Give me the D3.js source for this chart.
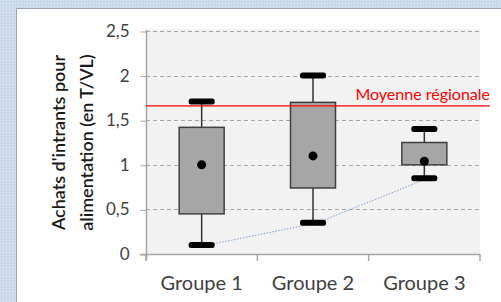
<!DOCTYPE html>
<html><head><meta charset="utf-8">
<script src="https://cdn.jsdelivr.net/npm/d3@7"></script>
<style>html,body{margin:0;padding:0;background:#fff;overflow:hidden}</style>
</head><body>
<script>
const categories = ["Groupe 1", "Groupe 2", "Groupe 3"];
const whiskerLow = [0.1, 0.35, 0.85];
const q1 = [0.45, 0.74, 1.0];
const q3 = [1.42, 1.70, 1.25];
const whiskerHigh = [1.71, 2.0, 1.4];
const means = [1.0, 1.1, 1.04];
const regionalMean = 1.66;
const yTicks = [0, 0.5, 1, 1.5, 2, 2.5];
const yTitle = ["Achats d'intrants pour", "alimentation (en T/VL)"];
const refLabel = "Moyenne régionale";

const FONT = "Lato, 'Open Sans', sans-serif";
const W = 501, H = 302;
const svg = d3.select("body").append("svg").attr("width", W).attr("height", H);
const defs = svg.append("defs");
const pat = defs.append("pattern").attr("id","dots").attr("width",3).attr("height",3).attr("patternUnits","userSpaceOnUse");
pat.append("rect").attr("width",3).attr("height",3).attr("fill","#c9d8ee");
pat.append("rect").attr("width",1).attr("height",1).attr("fill","#e3ecf7");
svg.append("rect").attr("width",W).attr("height",H).attr("fill","url(#dots)");
svg.append("rect").attr("x",17).attr("y",9).attr("width",W-17).attr("height",H-9).attr("fill","#fff");
svg.append("line").attr("x1",16.5).attr("x2",16.5).attr("y1",8.5).attr("y2",H).attr("stroke","#9aa3ad");
svg.append("line").attr("x1",16.5).attr("x2",W).attr("y1",8.5).attr("y2",8.5).attr("stroke","#9aa3ad");

const x0 = 146, x1 = 480;
const y = d3.scaleLinear().domain([0, 2.5]).range([254, 31]);
const x = d3.scaleBand().domain(categories).range([x0, x1]);

svg.append("rect").attr("x",x0).attr("y",29).attr("width",x1-x0).attr("height",254-29).attr("fill","#f2f2f2");

// gridlines
svg.append("g").selectAll("line").data(yTicks.filter(d=>d>0)).join("line")
  .attr("x1",x0).attr("x2",x1).attr("y1",d=>Math.round(y(d))+0.5).attr("y2",d=>Math.round(y(d))+0.5)
  .attr("stroke","#a6a6a6").attr("stroke-dasharray","4,3");

// y axis
const ya = svg.append("g").attr("transform",`translate(${x0+0.5},0)`)
  .call(d3.axisLeft(y).tickValues(yTicks).tickSize(6).tickPadding(11).tickFormat(d=>String(d).replace(".",",")));
ya.select(".domain").remove();
ya.selectAll(".tick line").attr("stroke","#a6a6a6").attr("y1",0.5).attr("y2",0.5);
ya.selectAll("text").attr("font-family",FONT).attr("font-size",17).attr("fill","#404040");
svg.append("line").attr("x1",x0+0.5).attr("x2",x0+0.5).attr("y1",30).attr("y2",261).attr("stroke","#a6a6a6").attr("stroke-width",1.5);

// x axis
const xa = svg.append("g").attr("transform",`translate(0,254.5)`)
  .call(d3.axisBottom(x).tickSize(0).tickPadding(21));
xa.select(".domain").remove();
xa.selectAll("text").attr("font-family",FONT).attr("font-size",20).attr("fill","#404040");
svg.append("line").attr("x1",140).attr("x2",x1).attr("y1",254.5).attr("y2",254.5).attr("stroke","#a6a6a6").attr("stroke-width",1.5);
const bounds = [x0].concat(categories.map(c=>x(c)+x.bandwidth()));
svg.append("g").selectAll("line").data(bounds).join("line")
  .attr("x1",d=>d).attr("x2",d=>d).attr("y1",254).attr("y2",261).attr("stroke","#a6a6a6").attr("stroke-width",1.5);

// y title
yTitle.forEach((t,i)=>{
  svg.append("text").attr("transform",`translate(${65+i*28},142.5) rotate(-90)`)
    .attr("font-family",FONT).attr("font-size",18).attr("font-weight",600).attr("fill","#1a1a1a")
    .attr("text-anchor","middle").text(t);
});

// blue dotted line through minimums
const pts = categories.map((c,i)=>[x(c)+x.bandwidth()/2 + (i===0?6:4), y(whiskerLow[i])]);
svg.append("path").attr("d", d3.line().curve(d3.curveLinear)(pts))
  .attr("fill","none").attr("stroke","#7ea3d8").attr("stroke-width",1).attr("stroke-dasharray","1.5,1.5");

// boxes
const bw = 45, cw = 26;
const g = svg.append("g");
categories.forEach((c,i)=>{
  const cx = x(c)+x.bandwidth()/2;
  g.append("line").attr("x1",cx).attr("x2",cx).attr("y1",y(whiskerHigh[i])).attr("y2",y(whiskerLow[i])).attr("stroke","#333").attr("stroke-width",1.5);
  g.append("rect").attr("x",cx-bw/2).attr("y",y(q3[i])).attr("width",bw).attr("height",y(q1[i])-y(q3[i]))
    .attr("fill","#a6a6a6").attr("stroke","#404040").attr("stroke-width",1.5);
  [whiskerHigh[i], whiskerLow[i]].forEach(v=>{
    g.append("rect").attr("x",cx-cw/2).attr("y",y(v)-3).attr("width",cw).attr("height",6).attr("rx",2.5).attr("fill","#000");
  });
  g.append("circle").attr("cx",cx).attr("cy",y(means[i])).attr("r",4.5).attr("fill","#000");
});

// regional mean
svg.append("line").attr("x1",x0).attr("x2",490).attr("y1",y(regionalMean)).attr("y2",y(regionalMean)).attr("stroke","#ff0000").attr("stroke-width",1.2);
svg.append("text").attr("x",490).attr("y",y(regionalMean)-6).attr("text-anchor","end")
  .attr("font-family",FONT).attr("font-size",16).attr("fill","#ff0000").text(refLabel);
</script>
</body></html>
